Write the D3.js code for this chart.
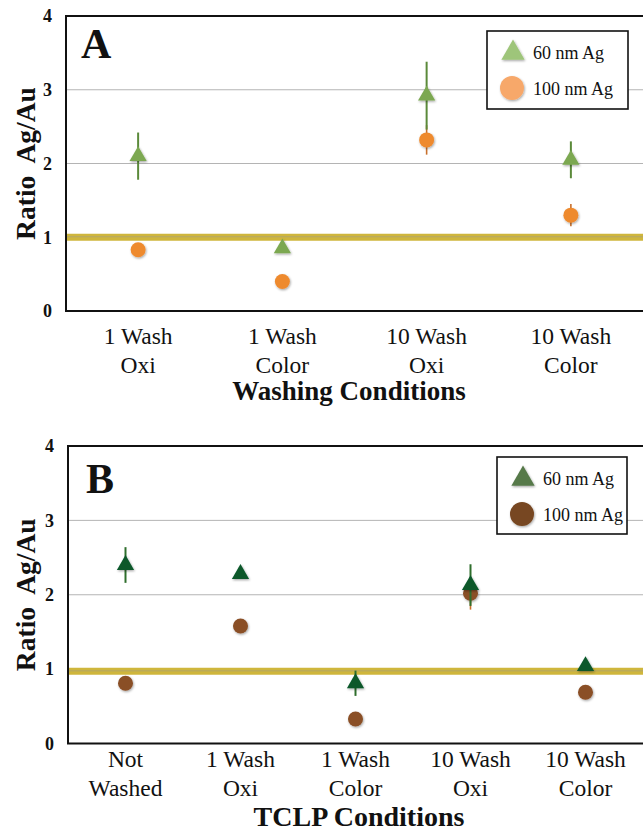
<!DOCTYPE html>
<html>
<head>
<meta charset="utf-8">
<script src="https://cdn.jsdelivr.net/npm/d3@7"></script>
<style>
  body { margin: 0; background: #fff; }
  svg { display: block; font-family: "Liberation Serif", "Times New Roman", serif; }
</style>
</head>
<body>
<svg width="643" height="831"></svg>
<script>
// panel A - washing conditions
var catsA = [["1 Wash", "Oxi"], ["1 Wash", "Color"], ["10 Wash", "Oxi"], ["10 Wash", "Color"]];
var a60 = [2.10, 0.85, 2.92, 2.05];
var a60Err = [0.32, 0, 0.46, 0.25];
var a100 = [0.83, 0.40, 2.32, 1.30];
var a100Err = [0, 0, 0.20, 0.15];

// panel B - TCLP conditions
var catsB = [["Not", "Washed"], ["1 Wash", "Oxi"], ["1 Wash", "Color"], ["10 Wash", "Oxi"], ["10 Wash", "Color"]];
var b60 = [2.40, 2.28, 0.81, 2.13, 1.04];
var b60Err = [0.24, 0, 0.17, 0.28, 0];
var b100 = [0.81, 1.58, 0.33, 2.02, 0.69];
var b100Err = [0, 0, 0, 0.22, 0];

var yTicks = [0, 1, 2, 3, 4];
var legendNames = ["60 nm Ag", "100 nm Ag"];

var svg = d3.select('svg');

var defs = svg.append('defs');
var f = defs.append('filter').attr('id', 'shadow')
  .attr('x', '-50%').attr('y', '-50%').attr('width', '200%').attr('height', '200%');
f.append('feDropShadow').attr('dx', 0.8).attr('dy', 1.2).attr('stdDeviation', 0.8)
  .attr('flood-color', '#000').attr('flood-opacity', 0.35);

function panel(opt) {
  var g = svg.append('g');
  var x = d3.scaleBand().domain(d3.range(opt.cats.length)).range([opt.left, opt.right]);
  var y = d3.scaleLinear().domain([0, 4]).range([opt.bottom, opt.top]);

  // grid lines
  g.selectAll('.grid').data([1, 2, 3]).enter().append('line')
    .attr('x1', opt.left).attr('x2', opt.right)
    .attr('y1', function(d) { return y(d); }).attr('y2', function(d) { return y(d); })
    .attr('stroke', '#b4b4b4').attr('stroke-width', 1);

  // reference band at ratio 1
  g.append('line')
    .attr('x1', opt.left).attr('x2', opt.right)
    .attr('y1', y(opt.ref)).attr('y2', y(opt.ref))
    .attr('stroke', '#cfb63c').attr('stroke-width', 7);
  g.append('line')
    .attr('x1', opt.left).attr('x2', opt.right)
    .attr('y1', y(opt.ref) - 0.5).attr('y2', y(opt.ref) - 0.5)
    .attr('stroke', '#b3a66a').attr('stroke-width', 1);

  // frame: left, top, bottom
  g.append('path')
    .attr('d', 'M' + opt.right + ',' + opt.top + 'H' + opt.left + 'V' + opt.bottom + 'H' + opt.right)
    .attr('fill', 'none').attr('stroke', '#111').attr('stroke-width', 2);

  // y axis
  var ax = g.append('g').attr('transform', 'translate(' + opt.left + ',0)')
    .call(d3.axisLeft(y).tickValues(yTicks).tickSize(0).tickPadding(14).tickFormat(d3.format('d')));
  ax.select('.domain').remove();
  ax.selectAll('text').attr('font-family', '"Liberation Serif", serif')
    .attr('font-size', 18).attr('font-weight', 'bold').attr('fill', '#111');

  // category labels
  var lab = g.selectAll('.cat').data(opt.cats).enter().append('text')
    .attr('text-anchor', 'middle').attr('font-size', 23.5).attr('fill', '#111');
  lab.each(function(d, i) {
    var t = d3.select(this);
    d.forEach(function(s, k) {
      t.append('tspan').attr('x', x(i) + x.bandwidth() / 2)
        .attr('y', opt.bottom + opt.labOff + k * 29).text(s);
    });
  });

  // axis titles
  g.append('text').attr('x', opt.titleX).attr('y', opt.titleY)
    .attr('text-anchor', 'middle').attr('font-size', opt.titleSize).attr('font-weight', 'bold')
    .attr('fill', '#111').text(opt.xTitle);
  g.append('text')
    .attr('transform', 'translate(35,' + (opt.top + opt.bottom) / 2 + ') rotate(-90)')
    .attr('text-anchor', 'middle').attr('font-size', 27.5).attr('font-weight', 'bold')
    .attr('fill', '#111').attr('xml:space', 'preserve').text('Ratio  Ag/Au');

  // panel letter
  g.append('text').attr('x', opt.letterX).attr('y', opt.letterY)
    .attr('font-size', 42).attr('font-weight', 'bold').attr('fill', '#111').text(opt.letter);

  var cx = function(d, i) { return x(i) + x.bandwidth() / 2; };

  // 100 nm series
  var s100 = opt.v100.map(function(v, i) { return { v: v, e: opt.e100[i] }; });
  g.selectAll('.e100').data(s100).enter().append('line')
    .attr('x1', cx).attr('x2', cx)
    .attr('y1', function(d) { return y(d.v - d.e); })
    .attr('y2', function(d) { return y(d.v + d.e); })
    .attr('stroke', opt.c100bar).attr('stroke-width', 1.6)
    .attr('display', function(d) { return d.e > 0 ? null : 'none'; });
  g.selectAll('.d100').data(s100).enter().append('circle')
    .attr('cx', cx).attr('cy', function(d) { return y(d.v); })
    .attr('r', 7.5).attr('fill', opt.c100).attr('filter', 'url(#shadow)');

  // 60 nm series
  var s60 = opt.v60.map(function(v, i) { return { v: v, e: opt.e60[i] }; });
  g.selectAll('.e60').data(s60).enter().append('line')
    .attr('x1', cx).attr('x2', cx)
    .attr('y1', function(d) { return y(d.v - d.e); })
    .attr('y2', function(d) { return y(d.v + d.e); })
    .attr('stroke', opt.c60bar).attr('stroke-width', 2)
    .attr('display', function(d) { return d.e > 0 ? null : 'none'; });
  var tri = d3.symbol().type(d3.symbolTriangle).size(128);
  g.selectAll('.d60').data(s60).enter().append('path')
    .attr('d', tri)
    .attr('transform', function(d, i) { return 'translate(' + cx(d, i) + ',' + y(d.v) + ')'; })
    .attr('fill', opt.c60).attr('filter', 'url(#shadow)');

  // legend
  var L = opt.legend;
  g.append('rect').attr('x', L.x).attr('y', L.y).attr('width', L.w).attr('height', L.h)
    .attr('fill', '#fff').attr('stroke', '#111').attr('stroke-width', 1.6);
  g.append('path').attr('d', d3.symbol().type(d3.symbolTriangle).size(235))
    .attr('transform', 'translate(' + (L.x + 26) + ',' + (L.y + 22) + ')')
    .attr('fill', opt.l60).attr('filter', 'url(#shadow)');
  g.append('circle').attr('cx', L.x + 25).attr('cy', L.y + 57).attr('r', 12)
    .attr('fill', opt.l100).attr('filter', 'url(#shadow)');
  g.selectAll('.lt').data(legendNames).enter().append('text')
    .attr('x', L.x + 46).attr('y', function(d, i) { return L.y + 28 + i * 36; })
    .attr('font-size', 18).attr('fill', '#111').text(function(d) { return d; });
}

panel({
  cats: catsA, v60: a60, e60: a60Err, v100: a100, e100: a100Err,
  left: 66, right: 643, top: 16, bottom: 311, ref: 1.0,
  labOff: 33, titleX: 349, titleY: 400, titleSize: 27, xTitle: 'Washing Conditions',
  letter: 'A', letterX: 81, letterY: 58,
  c60: '#7ba851', c60bar: '#5b8a3a', c100: '#ee8a2e', c100bar: '#c8702c',
  l60: '#9ec57a', l100: '#f7a86a',
  legend: { x: 487, y: 31, w: 141, h: 78 }
});

panel({
  cats: catsB, v60: b60, e60: b60Err, v100: b100, e100: b100Err,
  left: 68, right: 643, top: 446, bottom: 743.5, ref: 0.97,
  labOff: 23, titleX: 359, titleY: 826, titleSize: 28, xTitle: 'TCLP Conditions',
  letter: 'B', letterX: 86, letterY: 493,
  c60: '#08592a', c60bar: '#2f6e2c', c100: '#8a4f26', c100bar: '#c8702c',
  l60: '#56794a', l100: '#774620',
  legend: { x: 497, y: 457, w: 130, h: 77 }
});
</script>
</body>
</html>
